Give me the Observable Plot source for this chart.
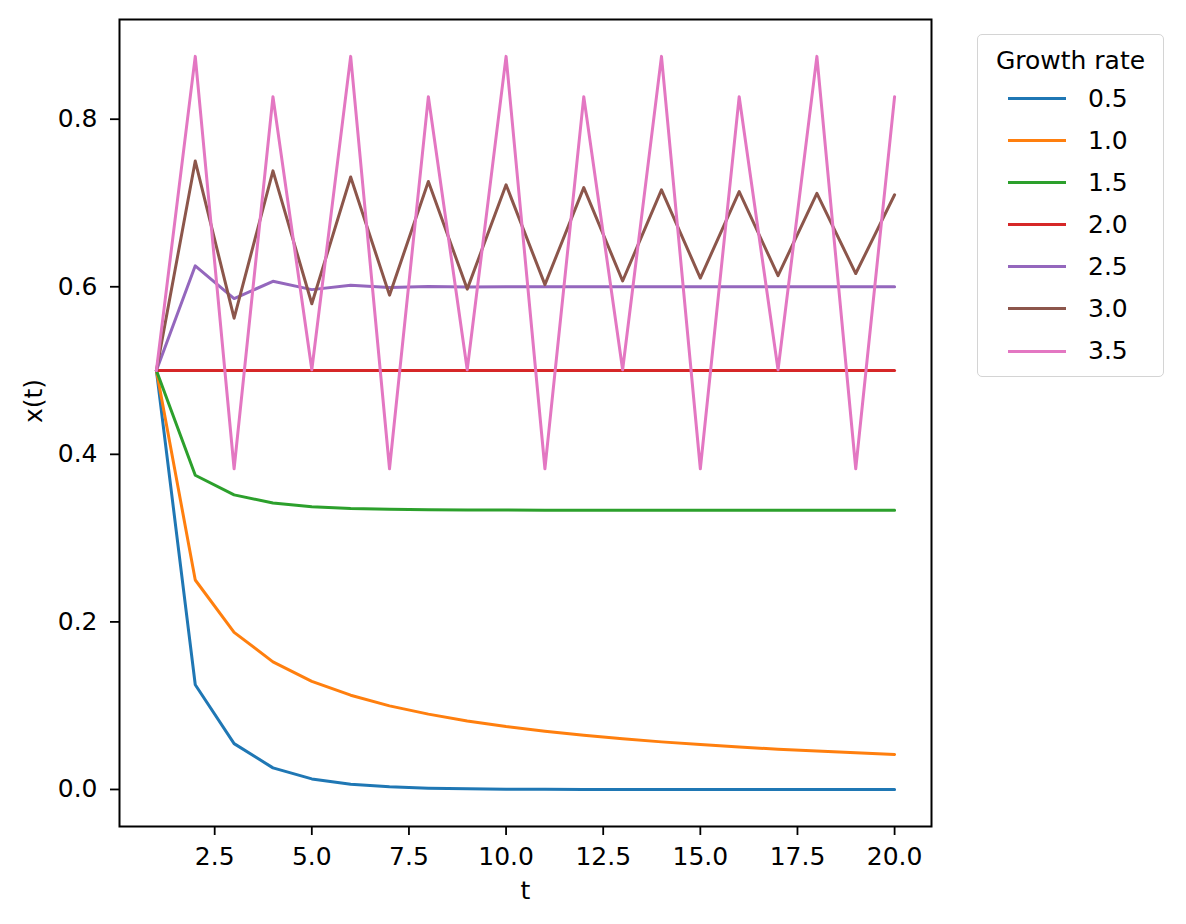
<!DOCTYPE html>
<html>
<head>
<meta charset="utf-8">
<script src="https://cdn.jsdelivr.net/npm/d3@7"></script>
<script src="https://cdn.jsdelivr.net/npm/@observablehq/plot@0.6"></script>
<style>
  html, body { margin: 0; padding: 0; background: white; }
  #wrap { position: relative; width: 1186px; height: 924px; font-family: "DejaVu Sans", sans-serif; }
  #legend { position: absolute; left: 977px; top: 34px; width: 187px; height: 343px;
            border: 1.5px solid #d4d4d4; border-radius: 5px; background: white; box-sizing: border-box; }
  #legend .title { position: absolute; left: 0; right: 0; top: 26px; height: 30px; line-height: 30px;
                   text-align: center; font-size: 25px; color: #000; margin-top: -15px; }
  #legend .item { position: absolute; left: 0; right: 0; height: 30px; }
  #legend .sw { position: absolute; left: 30px; top: 13.5px; width: 58px; height: 3px; }
  #legend .lab { position: absolute; left: 110px; top: 0px; font-size: 25px; color: #000; line-height: 30px; }
</style>
</head>
<body>
<div id="wrap"></div>
<script>
const tValues = [1,2,3,4,5,6,7,8,9,10,11,12,13,14,15,16,17,18,19,20];
const rates = ["0.5","1.0","1.5","2.0","2.5","3.0","3.5"];
const colors = ["#1f77b4","#ff7f0e","#2ca02c","#d62728","#9467bd","#8c564b","#e377c2"];
const xTicks = [2.5,5,7.5,10,12.5,15,17.5,20];
const yTicks = [0,0.2,0.4,0.6,0.8];

const r05 = [0.5,0.125,0.0547,0.0258,0.0126,0.0062,0.0031,0.0015,0.0008,0.0004,0.0002,0.0001,0.00005,0.00002,0.00001,0.000006,0.000003,0.0000015,0.0000007,0.0000004];
const r10 = [0.5,0.25,0.1875,0.1523,0.1291,0.1125,0.0998,0.0899,0.0818,0.0751,0.0695,0.0646,0.0605,0.0568,0.0536,0.0507,0.0481,0.0458,0.0437,0.0418];
const r15 = [0.5,0.375,0.3516,0.3419,0.3375,0.3354,0.3344,0.3338,0.3336,0.3335,0.3334,0.3334,0.3333,0.3333,0.3333,0.3333,0.3333,0.3333,0.3333,0.3333];
const r20 = [0.5,0.5,0.5,0.5,0.5,0.5,0.5,0.5,0.5,0.5,0.5,0.5,0.5,0.5,0.5,0.5,0.5,0.5,0.5,0.5];
const r25 = [0.5,0.625,0.5859,0.6065,0.5966,0.6017,0.5992,0.6004,0.5998,0.6001,0.5999,0.6000,0.6000,0.6000,0.6000,0.6000,0.6000,0.6000,0.6000,0.6000];
const r30 = [0.5,0.75,0.5625,0.7383,0.5797,0.7310,0.5900,0.7257,0.5972,0.7217,0.6026,0.7184,0.6069,0.7157,0.6104,0.7135,0.6133,0.7115,0.6158,0.7098];
const r35 = [0.5,0.875,0.3828,0.8269,0.5009,0.8750,0.3828,0.8269,0.5009,0.8750,0.3828,0.8269,0.5009,0.8750,0.3828,0.8269,0.5009,0.8750,0.3828,0.8269];

const seriesList = [r05, r10, r15, r20, r25, r30, r35];
const data = [];
seriesList.forEach((s, i) => s.forEach((v, j) => data.push({t: tValues[j], x: v, rate: rates[i]})));

const chart = Plot.plot({
  width: 1186,
  height: 924,
  marginLeft: 119,
  marginRight: 255,
  marginTop: 19,
  marginBottom: 98,
  style: { fontFamily: "DejaVu Sans, sans-serif", fontSize: "25px", color: "#000", background: "white" },
  x: { domain: [0.05, 20.95] },
  y: { domain: [-0.0442, 0.919] },
  color: { type: "ordinal", domain: rates, range: colors },
  marks: [
    Plot.line(data, { x: "t", y: "x", z: "rate", stroke: "rate", strokeWidth: 3 }),
    Plot.frame({ stroke: "black", strokeWidth: 2 }),
    Plot.axisX({ ticks: xTicks, tickFormat: d3.format(".1f"), tickSize: 9, tickPadding: 12, label: null, stroke: "black", strokeWidth: 1.8, fontSize: 25 }),
    Plot.axisY({ ticks: yTicks, tickFormat: d3.format(".1f"), tickSize: 9, tickPadding: 13, label: null, stroke: "black", strokeWidth: 1.8, fontSize: 25 }),
    Plot.text(["t"], { frameAnchor: "bottom", dy: 72, fontSize: 25, fill: "#000" }),
    Plot.text(["x(t)"], { frameAnchor: "left", dx: -86, rotate: -90, fontSize: 25, fill: "#000" })
  ]
});
document.getElementById("wrap").appendChild(chart);

const legend = document.createElement("div");
legend.id = "legend";
let html = '<div class="title">Growth rate</div>';
rates.forEach((r, i) => {
  const cy = 97.7 + i * 42.05 - 34;
  html += `<div class="item" style="top:${cy - 15}px"><div class="sw" style="background:${colors[i]}"></div><div class="lab">${r}</div></div>`;
});
legend.innerHTML = html;
document.getElementById("wrap").appendChild(legend);
</script>
</body>
</html>
